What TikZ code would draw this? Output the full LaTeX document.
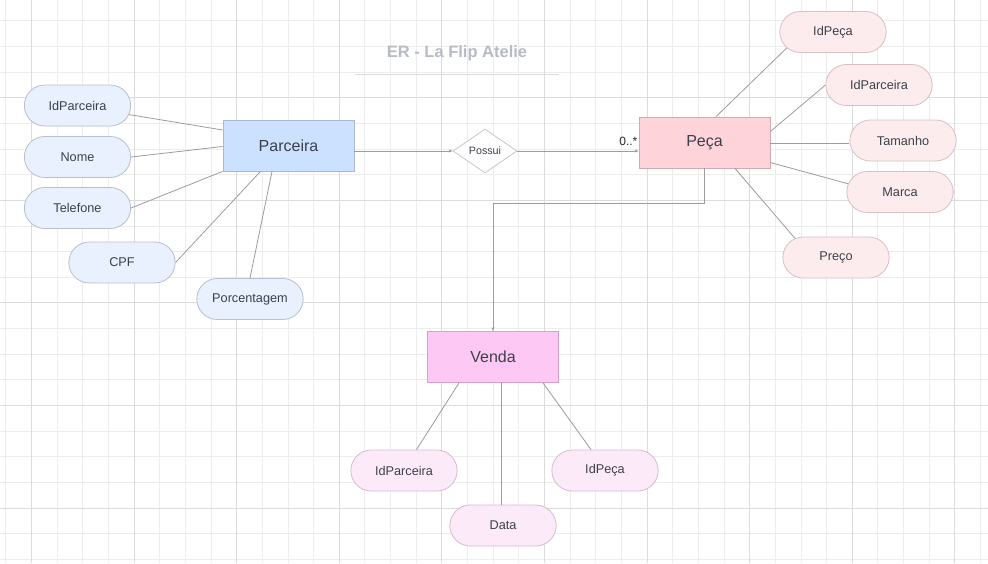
\documentclass[tikz,border=0pt]{standalone}
\usepackage{fontspec}
\setmainfont{Liberation Sans}
\usepackage{tikz}
\usetikzlibrary{shapes.misc,shapes.geometric,arrows.meta}

\definecolor{txt}{HTML}{3B414B}
\definecolor{gridMinor}{HTML}{EDEDED}
\definecolor{gridMajor}{HTML}{DCDCDC}
\definecolor{link}{HTML}{9C9C9C}
\definecolor{titleGray}{HTML}{B7BBC4}
\definecolor{parcFill}{HTML}{CCE0FF}
\definecolor{parcLine}{HTML}{A9B9CF}
\definecolor{parcAttr}{HTML}{E9F1FE}
\definecolor{parcAttrLine}{HTML}{B6C0CE}
\definecolor{pecaFill}{HTML}{FFD3DA}
\definecolor{pecaLine}{HTML}{D5A9B0}
\definecolor{pecaAttr}{HTML}{FDECEE}
\definecolor{pecaAttrLine}{HTML}{D9BEC2}
\definecolor{vendaFill}{HTML}{FEC8F4}
\definecolor{vendaLine}{HTML}{D3A2CA}
\definecolor{vendaAttr}{HTML}{FDEAF9}
\definecolor{vendaAttrLine}{HTML}{D6BACF}

\tikzset{
	entity/.style={draw=#1Line,fill=#1Fill,line width=0.8pt,minimum width=131pt,minimum height=51pt,text=txt,font=\fontsize{16}{19}\selectfont},
	attr/.style={rounded rectangle,draw=#1AttrLine,fill=#1Attr,line width=0.8pt,minimum width=113pt,minimum height=41pt,text=txt,font=\fontsize{12.7}{15}\selectfont},
	link/.style={draw=link,line width=0.8pt},
	tip/.style={-{Stealth[length=4pt,width=3pt]}}
}

\begin{document}
\begin{tikzpicture}[x=1pt,y=-1pt]
		\useasboundingbox (0,0) rectangle (988,563);
		\fill[white] (0,0) rectangle (988,563);
		\begin{scope}
		\clip (0,0) rectangle (988,563);
		\foreach \i in {0,...,38} {
			\draw[gridMinor,line width=0.7pt] ({5.7+\i*25.65},0) -- ++(0,563);
		}
		\foreach \i in {1,...,22} {
			\draw[gridMinor,line width=0.7pt] (0,{-5+\i*25.65}) -- ++(988,0);
		}
		\foreach \i in {0,...,9} {
			\draw[gridMajor,line width=0.8pt] ({31.35+\i*102.6},0) -- ++(0,563);
		}
		\foreach \i in {1,...,5} {
			\draw[gridMajor,line width=0.8pt] (0,{-5+\i*102.6}) -- ++(988,0);
		}
		\end{scope}

		% title
		\node[text=titleGray,font=\bfseries\fontsize{16.5}{19}\selectfont] (title) at (457,53) {ER - La Flip Atelie};
		\draw[draw=gridMajor,line width=0.8pt] (355,74) -- (559,74);

		% entities
		\node[entity=parc] (parceira) at (288.5,145.5) {Parceira};
		\node[entity=peca] (peca) at (704.5,142.5) {Peça};
		\node[entity=venda] (venda) at (493,357) {Venda};
		\node[diamond,aspect=1.45,draw=black!22,fill=white,line width=0.8pt,minimum width=64pt,minimum height=44pt,inner sep=0pt,text=txt,font=\fontsize{10.7}{13}\selectfont] (possui) at (485,151) {Possui};

		% attributes of Parceira
		\node[attr=parc] (pIdParceira) at (77.5,105.5) {IdParceira};
		\node[attr=parc] (pNome) at (77.5,157) {Nome};
		\node[attr=parc] (pTelefone) at (77.5,208) {Telefone};
		\node[attr=parc] (pCPF) at (122,262.5) {CPF};
		\node[attr=parc] (pPorcentagem) at (250,299) {Porcentagem};

		% attributes of Peça
		\node[attr=peca] (cIdPeca) at (833,32) {IdPeça};
		\node[attr=peca] (cIdParceira) at (879,85) {IdParceira};
		\node[attr=peca] (cTamanho) at (903,140.5) {Tamanho};
		\node[attr=peca] (cMarca) at (900,192) {Marca};
		\node[attr=peca] (cPreco) at (836,257.5) {Preço};

		% attributes of Venda
		\node[attr=venda] (vIdParceira) at (404,470.5) {IdParceira};
		\node[attr=venda] (vData) at (503,525.5) {Data};
		\node[attr=venda] (vIdPeca) at (605,470.5) {IdPeça};

		% attribute links
		\draw[link] (pIdParceira.-10) -- ([yshift=15.5pt]parceira.west);
		\draw[link] (pNome.east) -- ([yshift=-1pt]parceira.west);
		\draw[link] (pTelefone.east) -- (parceira.south west);
		\draw[link] (pCPF.east) -- ([xshift=-28pt]parceira.south);
		\draw[link] (pPorcentagem.north) -- ([xshift=-16.5pt]parceira.south);

		\draw[link] ([xshift=11.5pt]peca.north) -- (cIdPeca.199);
		\draw[link] ([yshift=11pt]peca.east) -- (cIdParceira.west);
		\draw[link] ([yshift=-0.5pt]peca.east) -- ([yshift=-0.5pt]peca.east -| cTamanho.west);
		\draw[link] ([yshift=-20pt]peca.east) -- (cMarca.171);
		\draw[link] ([xshift=30.5pt]peca.south) -- (cPreco.155);

		\draw[link] ([xshift=-34pt]venda.south) -- ([xshift=12.5pt]vIdParceira.north);
		\draw[link] ([xshift=8pt]venda.south) -- ([xshift=8pt]venda.south |- vData.north);
		\draw[link] ([xshift=50pt]venda.south) -- ([xshift=-14pt]vIdPeca.north);

		% relationships
		\draw[link,tip] (possui.west -| parceira.east) -- (possui.west);
		\draw[link,tip] (possui.east) -- (peca.west |- possui.east);
		\node[anchor=east,inner sep=0pt,text=black!85,font=\fontsize{12}{14}\selectfont] (mult) at ([xshift=-1pt,yshift=1.5pt]peca.west) {0..*};
		\draw[link,tip] (peca.south) |- (493,203.5) -- (venda.north);
	\end{tikzpicture}
\end{document}
